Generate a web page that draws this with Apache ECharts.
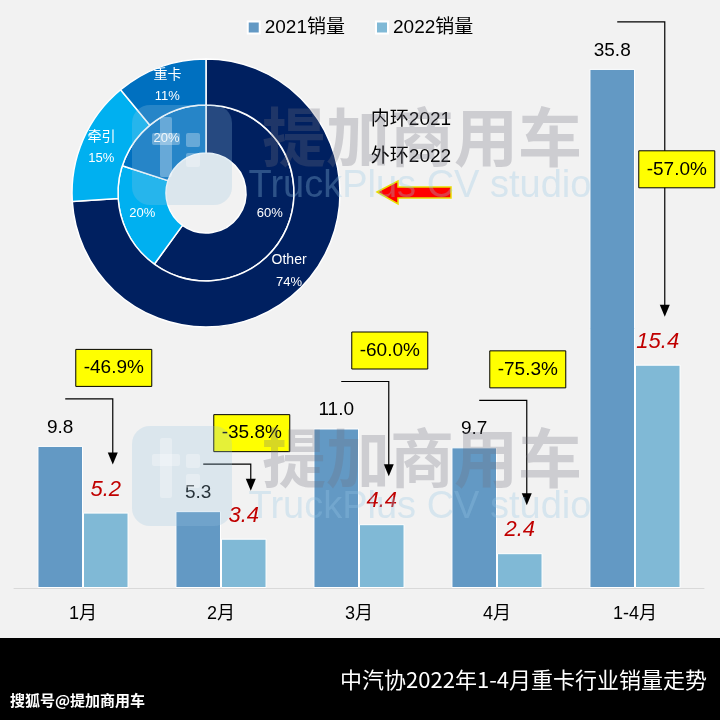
<!DOCTYPE html>
<html><head><meta charset="utf-8">
<script src="https://cdn.jsdelivr.net/npm/echarts@6/dist/echarts.min.js"></script>
<style>html,body{margin:0;padding:0;background:#f2f2f2}#c{width:720px;height:720px}</style>
</head><body><div id="c"></div>
<script>
const categories = ['1月', '2月', '3月', '4月', '1-4月'];
const sales2021 = [9.8, 5.3, 11.0, 9.7, 35.8];
const sales2022 = [5.2, 3.4, 4.4, 2.4, 15.4];
const changeLabels = ['-46.9%', '-35.8%', '-60.0%', '-75.3%', '-57.0%'];
const pieNames = ['Other', '牵引', '重卡'];
const innerShare2021 = [60, 20, 20];
const outerShare2022 = [74, 15, 11];

const FONT = "'Liberation Sans', 'Noto Sans CJK SC', sans-serif";
const pieColors = {'Other': '#002060', '牵引': '#00b0f0', '重卡': '#0070c0'};

const chart = echarts.init(document.getElementById('c'), null, {renderer: 'canvas'});
chart.setOption({
  animation: false,
  backgroundColor: '#f2f2f2',
  textStyle: {fontFamily: FONT},
  legend: {
    data: ['2021销量', '2022销量'], top: 13, left: 'center',
    icon: 'rect', itemWidth: 12, itemHeight: 12, itemGap: 30,
    textStyle: {fontSize: 19, color: '#000', fontFamily: FONT}
  },
  grid: {left: 14, right: 16, top: 8, bottom: 132},
  xAxis: {
    type: 'category', data: categories,
    axisLine: {lineStyle: {color: '#d9d9d9'}}, axisTick: {show: false},
    axisLabel: {fontSize: 18, color: '#000', margin: 17, fontFamily: FONT}
  },
  yAxis: {type: 'value', min: 0, max: 40, show: false, splitLine: {show: false}},
  series: [
    {
      name: '2021销量', type: 'bar', data: sales2021, barCategoryGap: '34%', barGap: '0%',
      itemStyle: {color: '#6399c4', borderColor: '#fff', borderWidth: 1},
      label: {show: true, position: 'top', distance: 9, fontSize: 19, color: '#000',
        formatter: p => p.value.toFixed(1)},
      silent: true
    },
    {
      name: '2022销量', type: 'bar', data: sales2022,
      itemStyle: {color: '#80b9d6', borderColor: '#fff', borderWidth: 1},
      label: {show: true, position: 'top', distance: 12, fontSize: 22, fontStyle: 'italic', color: '#c00000',
        formatter: p => p.value.toFixed(1)},
      silent: true
    },
    {
      type: 'pie', radius: [40, 88], center: [206, 193], startAngle: 90, clockwise: true,
      data: pieNames.map((n, i) => ({name: n, value: innerShare2021[i], itemStyle: {color: pieColors[n]}})),
      itemStyle: {borderColor: '#fff', borderWidth: 1.5},
      label: {show: true, position: 'inside', color: '#fff', fontSize: 13, formatter: p => p.value + '%'},
      labelLine: {show: false}, silent: true
    },
    {
      type: 'pie', radius: [88, 134], center: [206, 193], startAngle: 90, clockwise: true,
      data: pieNames.map((n, i) => ({name: n, value: outerShare2022[i], itemStyle: {color: pieColors[n]}})),
      itemStyle: {borderColor: '#fff', borderWidth: 1.5},
      label: {show: true, position: 'inside', color: '#fff', lineHeight: 22,
        formatter: p => '{n|' + p.name + '}\n{v|' + p.value + '%}',
        rich: {n: {fontSize: 14, color: '#fff', lineHeight: 22}, v: {fontSize: 13, color: '#fff', lineHeight: 22}}},
      labelLine: {show: false}, silent: true
    }
  ]
});

function barLayout(si, i) {
  try {
    const l = chart.getModel().getSeriesByIndex(si).getData().getItemLayout(i);
    if (l && isFinite(l.x)) return {cx: l.x + l.width / 2, top: l.y + l.height};
  } catch (e) {}
  const c = chart.convertToPixel({xAxisIndex: 0}, i);
  const catW = 690 / categories.length;
  const bw = catW * 0.66 / 2;
  const yv = chart.convertToPixel({yAxisIndex: 0}, si === 0 ? sales2021[i] : sales2022[i]);
  return {cx: si === 0 ? c - bw / 2 : c + bw / 2, top: yv};
}

const g = [];
// watermark
[137, 458].forEach(cy => {
  g.push({type: 'rect', silent: true, z: 100, shape: {x: 132, y: cy - 32, width: 100, height: 100, r: 18},
    style: {fill: 'rgba(150,195,222,0.25)'}});
  g.push({type: 'rect', silent: true, z: 101, shape: {x: 152, y: cy - 4, width: 28, height: 12, r: 2},
    style: {fill: 'rgba(255,255,255,0.3)'}});
  g.push({type: 'rect', silent: true, z: 101, shape: {x: 160, y: cy - 20, width: 12, height: 60, r: 2},
    style: {fill: 'rgba(255,255,255,0.3)'}});
  g.push({type: 'rect', silent: true, z: 101, shape: {x: 186, y: cy - 4, width: 14, height: 14, r: 2},
    style: {fill: 'rgba(255,255,255,0.3)'}});
  g.push({type: 'rect', silent: true, z: 101, shape: {x: 186, y: cy + 16, width: 14, height: 14, r: 2},
    style: {fill: 'rgba(255,255,255,0.3)'}});
  g.push({type: 'text', silent: true, z: 100, x: 422, y: cy,
    style: {text: '提加商用车', font: "bold 64px 'Noto Sans CJK SC', sans-serif", fill: 'rgba(110,110,125,0.28)',
      align: 'center', verticalAlign: 'middle', textAlign: 'center', textVerticalAlign: 'middle'}});
  g.push({type: 'text', silent: true, z: 100, x: 420, y: cy + 50,
    style: {text: 'TruckPlus CV studio', font: "38px 'Liberation Sans', sans-serif", fill: 'rgba(150,200,228,0.3)',
      align: 'center', verticalAlign: 'middle', textAlign: 'center', textVerticalAlign: 'middle'}});
});

// annotations
categories.forEach((c, i) => {
  const b1 = barLayout(0, i), b2 = barLayout(1, i);
  const x1 = b1.cx + 5, x2 = b2.cx + 7;
  const yL = b1.top - 47, yTip = b2.top - 48;
  g.push({type: 'polyline', silent: true, z: 50, shape: {points: [[x1, yL], [x2, yL], [x2, yTip - 10]]},
    style: {stroke: '#000', lineWidth: 1.2, fill: null}});
  g.push({type: 'polygon', silent: true, z: 50, shape: {points: [[x2 - 5, yTip - 12], [x2 + 5, yTip - 12], [x2, yTip]]},
    style: {fill: '#000'}});
  let bx, by;
  if (i === categories.length - 1) { bx = x2 + 12; by = (yL + yTip) / 2; }
  else { bx = x2 + 1; by = yL - 31; }
  g.push({type: 'rect', silent: true, z: 60, shape: {x: bx - 38, y: by - 18.5, width: 76, height: 37},
    style: {fill: '#ffff00', stroke: '#000', lineWidth: 1}});
  g.push({type: 'text', silent: true, z: 61, x: bx, y: by,
    style: {text: changeLabels[i], font: "19px 'Liberation Sans', sans-serif", fill: '#000',
      align: 'center', verticalAlign: 'middle', textAlign: 'center', textVerticalAlign: 'middle'}});
});

// ring legend text + red arrow
g.push({type: 'text', silent: true, z: 60, x: 411, y: 120,
  style: {text: '内环2021', font: "19px 'Liberation Sans', 'Noto Sans CJK SC', sans-serif", fill: '#000',
    align: 'center', verticalAlign: 'middle', textAlign: 'center', textVerticalAlign: 'middle'}});
g.push({type: 'text', silent: true, z: 60, x: 411, y: 157,
  style: {text: '外环2022', font: "19px 'Liberation Sans', 'Noto Sans CJK SC', sans-serif", fill: '#000',
    align: 'center', verticalAlign: 'middle', textAlign: 'center', textVerticalAlign: 'middle'}});
g.push({type: 'polygon', silent: true, z: 60,
  shape: {points: [[377, 192], [398, 181], [398, 187], [451, 187], [451, 198], [398, 198], [398, 204]]},
  style: {fill: '#ff0000', stroke: '#e8e000', lineWidth: 1.5}});

// footer
g.push({type: 'rect', silent: true, z: 200, shape: {x: 0, y: 638, width: 720, height: 82}, style: {fill: '#000'}});
g.push({type: 'text', silent: true, z: 201, x: 707, y: 680,
  style: {text: '中汽协2022年1-4月重卡行业销量走势', font: "22px 'Noto Sans CJK SC', sans-serif", fill: '#fff',
    align: 'right', verticalAlign: 'middle', textAlign: 'right', textVerticalAlign: 'middle'}});
g.push({type: 'text', silent: true, z: 201, x: 10, y: 700,
  style: {text: '搜狐号@提加商用车', font: "bold 15px 'Noto Sans CJK SC', sans-serif", fill: '#fff',
    align: 'left', verticalAlign: 'middle', textAlign: 'left', textVerticalAlign: 'middle'}});

chart.setOption({graphic: {elements: g}});
</script></body></html>
